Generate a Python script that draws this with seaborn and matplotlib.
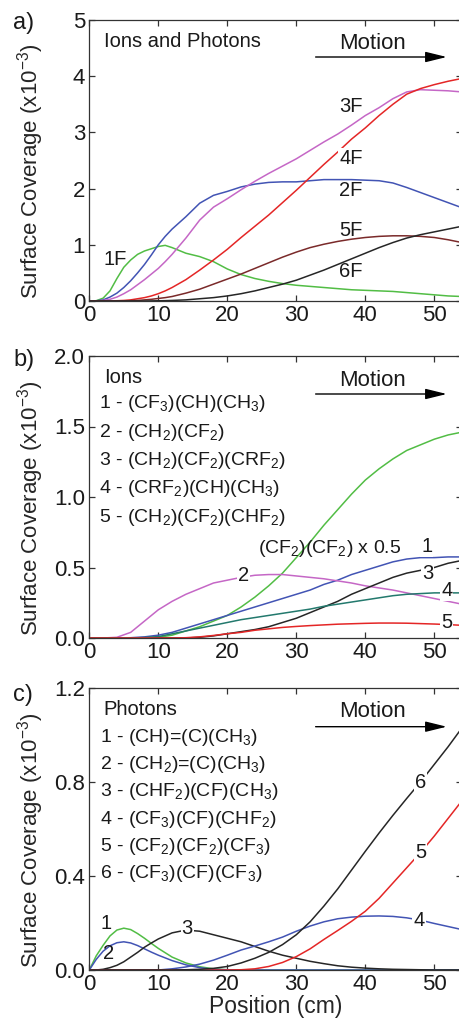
import numpy as np
import pandas as pd
import matplotlib
matplotlib.use("Agg")
import matplotlib.pyplot as plt
import seaborn as sns

# ---------------- data (surface coverage, x10^-3) ----------------
# Panel a: ions and photons, grouped by number of F atoms
pos_a = [0, 1, 2, 3, 4, 5, 6, 7, 8, 9, 10, 11, 12,
         14, 16, 18, 20, 22, 24, 26, 28, 30, 32, 34, 36, 38, 40,
         42, 44, 46, 48, 50, 52, 54]
cov_1F = [0, 0.005, 0.05, 0.18, 0.4, 0.6, 0.73, 0.83, 0.89, 0.93, 0.97, 0.99, 0.95,
          0.85, 0.79, 0.7, 0.57, 0.47, 0.4, 0.35, 0.31, 0.28, 0.26, 0.24, 0.22, 0.2, 0.19,
          0.18, 0.17, 0.15, 0.13, 0.11, 0.09, 0.08]
cov_2F = [0, 0.003, 0.02, 0.07, 0.14, 0.24, 0.36, 0.5, 0.65, 0.82, 1.0, 1.15, 1.28,
          1.5, 1.74, 1.88, 1.95, 2.03, 2.08, 2.11, 2.12, 2.12, 2.14, 2.16, 2.16, 2.16, 2.15,
          2.14, 2.1, 2.02, 1.93, 1.84, 1.75, 1.66]
cov_3F = [0, 0, 0.01, 0.03, 0.07, 0.13, 0.2, 0.29, 0.38, 0.48, 0.58, 0.7, 0.83,
          1.12, 1.44, 1.67, 1.82, 1.98, 2.13, 2.27, 2.4, 2.53, 2.68, 2.83, 2.97, 3.13, 3.3,
          3.44, 3.6, 3.72, 3.76, 3.75, 3.74, 3.72]
cov_4F = [0, 0, 0, 0, 0.005, 0.01, 0.02, 0.04, 0.06, 0.09, 0.13, 0.18, 0.24,
          0.38, 0.55, 0.73, 0.92, 1.13, 1.33, 1.53, 1.75, 1.97, 2.2, 2.43, 2.65, 2.88, 3.08,
          3.3, 3.5, 3.68, 3.78, 3.85, 3.91, 3.96]
cov_5F = [0, 0, 0, 0, 0, 0, 0.005, 0.01, 0.02, 0.03, 0.045, 0.06, 0.08,
          0.14, 0.21, 0.3, 0.39, 0.48, 0.58, 0.68, 0.78, 0.87, 0.95, 1.01, 1.06, 1.1, 1.13,
          1.15, 1.16, 1.16, 1.15, 1.13, 1.09, 1.04]
cov_6F = [0, 0, 0, 0, 0, 0, 0, 0, 0, 0.002, 0.004, 0.006, 0.01,
          0.02, 0.04, 0.06, 0.09, 0.13, 0.18, 0.24, 0.3, 0.37, 0.46, 0.55, 0.65, 0.75, 0.85,
          0.95, 1.04, 1.12, 1.18, 1.23, 1.28, 1.33]

# Panel b: ions
pos_b = list(range(0, 55, 2))
cov_b_cf2cf2 = [0, 0, 0, 0, 0, 0.005, 0.02, 0.05, 0.08, 0.12, 0.16, 0.22, 0.29, 0.37,
                0.46, 0.57, 0.68, 0.8, 0.91, 1.02, 1.12, 1.2, 1.27, 1.33, 1.37, 1.41, 1.44, 1.46]
cov_b1 = [0, 0, 0, 0.002, 0.008, 0.02, 0.04, 0.07, 0.1, 0.13, 0.16, 0.19, 0.22, 0.25,
          0.28, 0.31, 0.34, 0.38, 0.41, 0.45, 0.48, 0.51, 0.54, 0.56, 0.57, 0.57, 0.575, 0.575]
cov_b2 = [0, 0, 0.005, 0.04, 0.12, 0.2, 0.26, 0.31, 0.35, 0.39, 0.41, 0.43, 0.445, 0.45,
          0.45, 0.44, 0.43, 0.42, 0.405, 0.39, 0.37, 0.355, 0.34, 0.32, 0.3, 0.28, 0.26, 0.24]
cov_b3 = [0, 0, 0, 0, 0, 0, 0, 0, 0.005, 0.015, 0.03, 0.045, 0.06, 0.08,
          0.11, 0.14, 0.18, 0.22, 0.26, 0.31, 0.35, 0.39, 0.43, 0.46, 0.48, 0.5, 0.53, 0.55]
cov_b4 = [0, 0, 0, 0, 0.003, 0.01, 0.03, 0.05, 0.07, 0.09, 0.11, 0.13, 0.145, 0.16,
          0.175, 0.19, 0.205, 0.225, 0.24, 0.255, 0.27, 0.285, 0.3, 0.31, 0.315, 0.32, 0.32, 0.32]
cov_b5 = [0, 0, 0, 0, 0, 0, 0, 0.002, 0.008, 0.018, 0.03, 0.04, 0.055, 0.065,
          0.075, 0.082, 0.088, 0.093, 0.098, 0.101, 0.104, 0.106, 0.106, 0.105, 0.102, 0.099, 0.095, 0.09]

# Panel c: photons
pos_c = [0, 1, 2, 3, 4, 5, 6, 7, 8, 9, 10,
         12, 14, 16, 18, 20, 22, 24, 26, 28, 30, 32, 34, 36, 38, 40,
         42, 44, 46, 48, 50, 52, 54]
cov_c1 = [0, 0.06, 0.105, 0.145, 0.17, 0.178, 0.172, 0.155, 0.135, 0.113, 0.092,
          0.055, 0.03, 0.014, 0.005, 0.001, 0, 0, 0, 0, 0, 0, 0, 0, 0, 0,
          0, 0, 0, 0, 0, 0, 0]
cov_c2 = [0, 0.045, 0.08, 0.103, 0.116, 0.12, 0.115, 0.104, 0.09, 0.076, 0.063,
          0.04, 0.022, 0.01, 0.003, 0.001, 0, 0, 0, 0, 0, 0, 0, 0, 0, 0,
          0, 0, 0, 0, 0, 0, 0]
cov_c3 = [0, 0, 0.003, 0.01, 0.02, 0.035, 0.055, 0.075, 0.097, 0.115, 0.132,
          0.158, 0.17, 0.165, 0.15, 0.135, 0.12, 0.1, 0.08, 0.063, 0.05, 0.037, 0.027, 0.018, 0.012, 0.008,
          0.005, 0.003, 0.002, 0.001, 0, 0, 0]
cov_c4 = [0, 0, 0, 0, 0, 0, 0, 0, 0, 0, 0,
          0.005, 0.013, 0.025, 0.042, 0.063, 0.085, 0.102, 0.12, 0.14, 0.165, 0.187, 0.205, 0.218, 0.225, 0.229,
          0.23, 0.228, 0.222, 0.212, 0.198, 0.185, 0.172]
cov_c5 = [0, 0, 0, 0, 0, 0, 0, 0, 0, 0, 0,
          0, 0, 0, 0, 0, 0.001, 0.005, 0.015, 0.032, 0.057, 0.09, 0.13, 0.168, 0.207, 0.25,
          0.305, 0.37, 0.435, 0.5, 0.57, 0.645, 0.72]
cov_c6 = [0, 0, 0, 0, 0, 0, 0, 0, 0, 0, 0,
          0, 0.001, 0.003, 0.007, 0.015, 0.03, 0.05, 0.075, 0.108, 0.15, 0.205, 0.272, 0.345, 0.425, 0.505,
          0.583, 0.658, 0.73, 0.80, 0.875, 0.95, 1.03]

ions_species = ["1 - (CF$_3$)(CH)(CH$_3$)",
                "2 - (CH$_2$)(CF$_2$)",
                "3 - (CH$_2$)(CF$_2$)(CRF$_2$)",
                "4 - (CRF$_2$)(CH)(CH$_3$)",
                "5 - (CH$_2$)(CF$_2$)(CHF$_2$)"]
photon_species = ["1 - (CH)=(C)(CH$_3$)",
                  "2 - (CH$_2$)=(C)(CH$_3$)",
                  "3 - (CHF$_2$)(CF)(CH$_3$)",
                  "4 - (CF$_3$)(CF)(CHF$_2$)",
                  "5 - (CF$_2$)(CF$_2$)(CF$_3$)",
                  "6 - (CF$_3$)(CF)(CF$_3$)"]

# ---------------- style ----------------
GREEN = "#52bd45"
BLUE = "#4254b4"
MAGENTA = "#c567c6"
RED = "#e42626"
BROWN = "#7a2a2a"
BLACK = "#262626"
TEAL = "#23796d"
AXC = "#333333"
TXT = "#1a1a1a"

sns.set_style("ticks")
plt.rcParams["font.family"] = ["Liberation Sans", "DejaVu Sans"]
plt.rcParams["mathtext.fontset"] = "custom"
plt.rcParams["mathtext.rm"] = "Liberation Sans"
plt.rcParams["mathtext.it"] = "Liberation Sans:italic"
plt.rcParams["mathtext.bf"] = "Liberation Sans:bold"
plt.rcParams["text.color"] = TXT


def long_form(x, series):
    frames = [pd.DataFrame({"pos": x, "cov": y, "key": k}) for k, y in series.items()]
    return pd.concat(frames, ignore_index=True)


fig = plt.figure(figsize=(4.6, 10.19), dpi=100)
W, H = 460.0, 1019.0
left = 89.3 / W
width = 372.6 / W
ax_a = fig.add_axes([left, (H - 301) / H, width, 281 / H])
ax_b = fig.add_axes([left, (H - 638) / H, width, 282 / H])
ax_c = fig.add_axes([left, (H - 970) / H, width, 282 / H])

# panel a
df_a = long_form(pos_a, {"1F": cov_1F, "2F": cov_2F, "3F": cov_3F,
                         "4F": cov_4F, "5F": cov_5F, "6F": cov_6F})
pal_a = {"1F": GREEN, "2F": BLUE, "3F": MAGENTA, "4F": RED, "5F": BROWN, "6F": BLACK}
sns.lineplot(data=df_a, x="pos", y="cov", hue="key", palette=pal_a, legend=False,
             ax=ax_a, lw=1.1, estimator=None, sort=False)

# panel b
df_b = long_form(pos_b, {"cf2": cov_b_cf2cf2, "1": cov_b1, "2": cov_b2,
                         "3": cov_b3, "4": cov_b4, "5": cov_b5})
pal_b = {"cf2": GREEN, "1": BLUE, "2": MAGENTA, "3": BLACK, "4": TEAL, "5": RED}
sns.lineplot(data=df_b, x="pos", y="cov", hue="key", palette=pal_b, legend=False,
             ax=ax_b, lw=1.1, estimator=None, sort=False)

# panel c
df_c = long_form(pos_c, {"1": cov_c1, "2": cov_c2, "3": cov_c3,
                         "4": cov_c4, "5": cov_c5, "6": cov_c6})
pal_c = {"1": GREEN, "2": BLUE, "3": BLACK, "4": BLUE, "5": RED, "6": BLACK}
sns.lineplot(data=df_c, x="pos", y="cov", hue="key", palette=pal_c, legend=False,
             ax=ax_c, lw=1.1, estimator=None, sort=False)

ylims = [(0, 5), (0, 2.0), (0, 1.2)]
yticks = [[0, 1, 2, 3, 4, 5], [0, 0.5, 1.0, 1.5, 2.0], [0, 0.4, 0.8, 1.2]]
yfmt = ["{:.0f}", "{:.1f}", "{:.1f}"]
# arrow and "Motion" heights (axes fraction) for each panel
arrow_y = [(301 - 57) / 281, (638 - 394) / 282, (970 - 726.7) / 282]
motion_y = [(301 - 49) / 281, (638 - 385.7) / 282, (970 - 717.3) / 282]

for ax, yl, yt, fmt, ay, my in zip([ax_a, ax_b, ax_c], ylims, yticks, yfmt,
                                   arrow_y, motion_y):
    ax.set_xlim(0, 54)
    ax.set_ylim(*yl)
    ax.set_xticks([0, 10, 20, 30, 40, 50])
    ax.set_yticks(yt)
    ax.set_yticklabels([fmt.format(v) for v in yt])
    ax.tick_params(direction="in", length=4, width=0.9, top=True, right=True,
                   labelsize=16, colors=AXC, labelcolor=TXT, pad=3)
    for s in ax.spines.values():
        s.set_color(AXC)
        s.set_linewidth(0.9)
    ax.set_xlabel("")
    ax.set_ylabel("Surface Coverage (x10$^{-3}$)", fontsize=16)
    ax.yaxis.set_label_coords(-0.115, 0.46)
    # direction-of-motion arrow
    ax.annotate("", xy=(51.8, ay), xytext=(32.8, ay),
                xycoords=("data", "axes fraction"), textcoords=("data", "axes fraction"),
                arrowprops=dict(arrowstyle="-|>,head_length=1.3,head_width=0.32",
                                color="black", lw=1.0, shrinkA=0, shrinkB=0))
    ax.text(41.1, my, "Motion", fontsize=16, ha="center", va="baseline",
            transform=ax.get_xaxis_transform())

ax_c.set_xlabel("Position (cm)", fontsize=16.5, labelpad=0)

white = dict(boxstyle="square,pad=0.05", fc="white", ec="none")

# panel a annotations
ax_a.text(2.1, 4.52, "Ions and Photons", fontsize=14.5, ha="left", va="baseline")
for lab, x, y, box in [("1F", 3.7, 0.73, False), ("2F", 37.9, 1.975, False),
                       ("3F", 37.9, 3.46, False), ("4F", 37.9, 2.53, True),
                       ("5F", 37.9, 1.26, False), ("6F", 37.9, 0.52, False)]:
    ax_a.text(x, y, lab, fontsize=14.5, ha="center", va="center",
              bbox=white if box else None, zorder=5)

# panel b annotations
ax_b.text(2.1, 1.806, "Ions", fontsize=14.5, ha="left", va="baseline")
for i, s in enumerate(ions_species):
    ax_b.text(1.4, 1.629 - 0.201 * i, s, fontsize=14, ha="left", va="baseline")
ax_b.text(24.5, 0.6, "(CF$_2$)(CF$_2$) x 0.5", fontsize=14, ha="left", va="baseline",
          zorder=5)
for lab, x, y in [("1", 48.9, 0.648), ("2", 22.3, 0.44), ("3", 49.0, 0.455),
                  ("4", 51.8, 0.335), ("5", 51.8, 0.112)]:
    ax_b.text(x, y, lab, fontsize=14.5, ha="center", va="center", bbox=white, zorder=5)

# panel c annotations
ax_c.text(2.1, 1.085, "Photons", fontsize=14.5, ha="left", va="baseline")
for i, s in enumerate(photon_species):
    ax_c.text(1.5, 0.971 - 0.1163 * i, s, fontsize=14, ha="left", va="baseline")
for lab, x, y, box in [("1", 2.5, 0.196, False), ("2", 2.75, 0.071, False),
                       ("3", 14.2, 0.177, True), ("4", 47.8, 0.21, True),
                       ("5", 48.0, 0.5, True), ("6", 48.0, 0.80, True)]:
    ax_c.text(x, y, lab, fontsize=14.5, ha="center", va="center",
              bbox=white if box else None, zorder=5)

# panel letters
for lab, yc in [("a)", 23), ("b)", 360), ("c)", 695)]:
    fig.text(13 / W, 1 - yc / H, lab, fontsize=17, ha="left", va="center")

fig.savefig("out.png", dpi=100)
